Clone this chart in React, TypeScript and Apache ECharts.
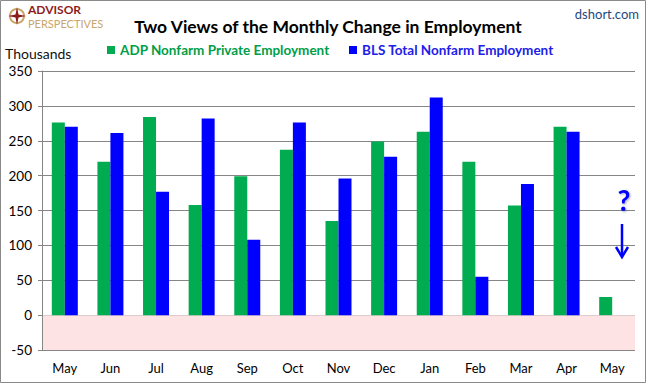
import React, { useEffect, useRef } from "react";
import * as echarts from "echarts";

const categories = ["May", "Jun", "Jul", "Aug", "Sep", "Oct", "Nov", "Dec", "Jan", "Feb", "Mar", "Apr", "May"];
const adpValues = [276, 220, 284, 158, 199, 237, 135, 249, 263, 220, 157, 270, 26];
const blsValues: (number | null)[] = [270, 261, 177, 282, 108, 276, 196, 227, 312, 55, 188, 263, null];
const seriesNames = ["ADP Nonfarm Private Employment", "BLS Total Nonfarm Employment"];
const yMin = -50;
const yMax = 350;
const yStep = 50;

const FONT = "Lato, 'Open Sans', sans-serif";
const GREEN = "#00AC4F";
const BLUE = "#0000FF";

export default function App() {
  const ref = useRef<HTMLDivElement>(null);
  useEffect(() => {
    if (!ref.current) return;
    const chart = echarts.init(ref.current, undefined, { renderer: "svg" });
    chart.setOption({
      animation: false,
      backgroundColor: "#fff",
      textStyle: { fontFamily: FONT },
      title: {
        text: "Two Views of the Monthly Change in Employment",
        left: 323,
        textAlign: "center",
        top: 12,
        textStyle: { fontSize: 17.5, fontWeight: "bold", color: "#000", fontFamily: FONT },
      },
      legend: [
        {
          data: [{ name: seriesNames[0], textStyle: { color: "#009E48" } }],
          left: 102,
          top: 38,
          icon: "rect",
          itemWidth: 8,
          itemHeight: 8,
          itemGap: 6,
          textStyle: { fontSize: 13.5, fontWeight: "bold", fontFamily: FONT },
        },
        {
          data: [{ name: seriesNames[1], textStyle: { color: "#2020E8" } }],
          left: 344,
          top: 38,
          icon: "rect",
          itemWidth: 8,
          itemHeight: 8,
          textStyle: { fontSize: 13.5, fontWeight: "bold", fontFamily: FONT },
        },
      ],
      grid: { left: 42, right: 15, top: 71, bottom: 34 },
      xAxis: {
        type: "category",
        data: categories,
        axisLine: { onZero: false, show: false },
        axisTick: { show: false },
        axisLabel: { color: "#000", fontSize: 13, margin: 11, fontFamily: FONT },
      },
      yAxis: {
        type: "value",
        min: yMin,
        max: yMax,
        interval: yStep,
        axisLine: { show: true, lineStyle: { color: "#868686", width: 1 } },
        axisTick: { show: true, length: 4, lineStyle: { color: "#868686" } },
        axisLabel: { color: "#000", fontSize: 13.5, margin: 10, fontFamily: FONT },
        splitLine: { lineStyle: { color: "#868686", width: 1 } },
      },
      series: [
        {
          name: seriesNames[0],
          type: "bar",
          data: adpValues,
          barWidth: 13,
          barGap: "0%",
          itemStyle: { color: GREEN },
          markArea: {
            silent: true,
            itemStyle: { color: "#FDE3E3" },
            data: [[{ yAxis: -50 }, { yAxis: 0 }]],
            z: 0,
          },
        },
        {
          name: seriesNames[1],
          type: "bar",
          data: blsValues,
          barWidth: 13,
          barGap: "0%",
          itemStyle: { color: BLUE },
        },
      ],
      graphic: [
        {
          type: "rect",
          shape: { x: 0.5, y: 0.5, width: 645, height: 382 },
          style: { fill: "none", stroke: "#8a8a8a", lineWidth: 1 },
          silent: true,
          z: 100,
        },
        {
          type: "text",
          x: 5,
          y: 46,
          style: { text: "Thousands", fontSize: 14, fill: "#111", fontFamily: FONT },
        },
        {
          type: "text",
          x: 639,
          y: 7,
          style: { text: "dshort.com", fontSize: 13, fill: "#1F497D", fontFamily: FONT, align: "right" },
        },
        // logo
        {
          type: "circle",
          shape: { cx: 17, cy: 16, r: 7 },
          style: { fill: "none", stroke: "#C9A66B", lineWidth: 2 },
        },
        {
          type: "polygon",
          shape: {
            points: [
              [17, 7], [18.5, 14.5], [26, 16], [18.5, 17.5], [17, 25], [15.5, 17.5], [8, 16], [15.5, 14.5],
            ],
          },
          style: { fill: "#8C1C1C" },
        },
        {
          type: "text",
          x: 28,
          y: 3,
          style: { text: "ADVISOR", fontSize: 12, lineHeight: 13, fontWeight: "bold", fill: "#8C1C1C", fontFamily: FONT },
        },
        {
          type: "text",
          x: 28,
          y: 18,
          style: { text: "PERSPECTIVES", fontSize: 11, lineHeight: 11, fill: "#C9A66B", fontFamily: FONT },
        },
        // question mark and arrow
        {
          type: "text",
          x: 624,
          y: 186,
          style: {
            text: "?",
            fontSize: 28,
            fontWeight: "bold",
            fill: BLUE,
            align: "center",
            fontFamily: FONT,
            textShadowColor: "rgba(0,0,80,0.35)",
            textShadowBlur: 2,
            textShadowOffsetX: 1,
            textShadowOffsetY: 1,
          },
          z: 50,
        },
        {
          type: "line",
          shape: { x1: 622, y1: 224, x2: 622, y2: 256 },
          style: { stroke: BLUE, lineWidth: 2.5 },
          z: 50,
        },
        {
          type: "polyline",
          shape: { points: [[616, 247], [622, 257], [628, 247]] },
          style: { stroke: BLUE, lineWidth: 2.5, fill: "none" },
          z: 50,
        },
      ],
    });
    return () => chart.dispose();
  }, []);
  return (
    <div
      ref={ref}
      style={{ position: "absolute", left: 0, top: 0, width: 650, height: 384 }}
    />
  );
}
